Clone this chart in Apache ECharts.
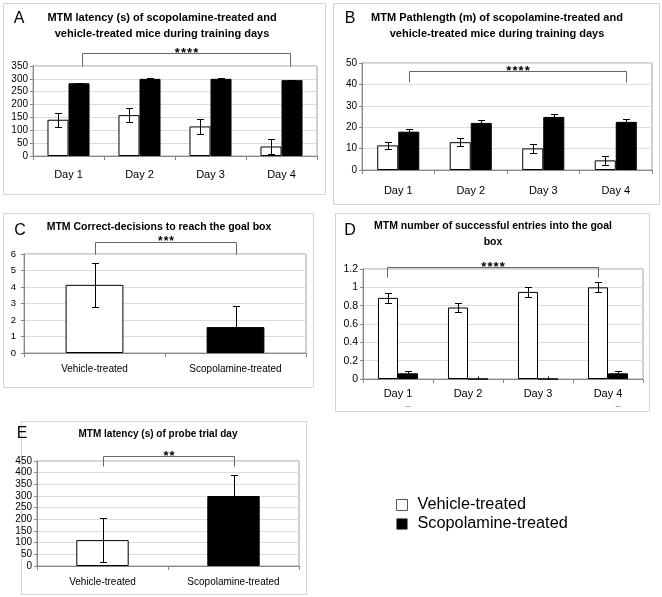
<!DOCTYPE html>
<html><head><meta charset="utf-8">
<script src="https://cdn.jsdelivr.net/npm/echarts@6/dist/echarts.min.js"></script>
<style>html,body{margin:0;padding:0;background:#fff}#c{width:662px;height:597px}</style>
</head><body><div id="c"></div>
<script>
// ---------- data ----------
const days = ['Day 1', 'Day 2', 'Day 3', 'Day 4'];
const groups = ['Vehicle-treated', 'Scopolamine-treated'];

// A: latency (s) during training days
const aVehicle = [141, 159, 115, 37];
const aVehicleErr = [28, 28, 28, 28];
const aScop = [283, 300, 300, 295];
const aScopErr = [2, 2, 2, 2];
const aTicks = [0, 350, 50];

// B: path length (m)
const bVehicle = [11.5, 13.0, 10.1, 4.5];
const bVehicleErr = [1.8, 2.0, 2.0, 2.0];
const bScop = [17.9, 22.0, 24.8, 22.5];
const bScopErr = [1.2, 1.5, 1.2, 1.5];
const bTicks = [0, 50, 10];

// C: correct decisions
const cValues = [4.13, 1.57];
const cErr = [1.33, 1.27];
const cTicks = [0, 6, 1];

// D: successful entries
const dVehicle = [0.885, 0.78, 0.95, 1.0];
const dVehicleErr = [0.055, 0.045, 0.05, 0.055];
const dScop = [0.062, 0, 0, 0.062];
const dScopErr = [0.025, 0.03, 0.03, 0.025];
const dTicks = [0, 1.2, 0.2];
const dMarks = [0, 3];

// E: probe trial latency
const eValues = [111, 300];
const eErr = [95, 91];
const eTicks = [0, 450, 50];

// significance brackets: [fromCategory, toCategory, lineValue, legValue]
const sigA = [0, 3, 401, 350];
const sigB = [0, 3, 46.3, 41];
const sigC = [0, 1, 6.73, 6];
const sigD = [0, 3, 1.22, 1.11];
const sigE = [0, 1, 471, 429];
const sigLabels = ['****', '****', '***', '****', '**'];

const titles = [
  'MTM latency (s) of scopolamine-treated and\nvehicle-treated mice during training days',
  'MTM Pathlength (m) of scopolamine-treated and\nvehicle-treated mice during training days',
  'MTM Correct-decisions to reach the goal box',
  'MTM number of successful entries into the goal\nbox',
  'MTM latency (s) of probe trial day'
];
const letters = ['A', 'B', 'C', 'D', 'E'];

// ---------- rendering ----------
const FF = '"Liberation Sans", Arial, Helvetica, sans-serif';
const chart = echarts.init(document.getElementById('c'), null, {renderer: 'canvas'});

const grids = [
  {left: 33, top: 66, width: 284, height: 90},
  {left: 362, top: 63, width: 290, height: 107},
  {left: 24, top: 254, width: 282, height: 99},
  {left: 363, top: 269, width: 280, height: 110},
  {left: 37, top: 461, width: 262, height: 105}
].map(g => Object.assign({show: true, borderColor: '#a0a0a0', borderWidth: 1, backgroundColor: 'transparent'}, g));

const panelCats = [days, days, groups, days, groups];
const panelTicks = [aTicks, bTicks, cTicks, dTicks, eTicks];
const xFont = [11, 11, 10, 11, 10];
const yFont = [10, 10, 9.5, 10.5, 10];
const xMargin = [13, 15, 11, 9, 11];
const yMargin = [5, 5, 8, 5, 5];

const xAxis = panelCats.map((cats, i) => ({
  type: 'category', gridIndex: i, data: cats,
  axisLine: {show: true, lineStyle: {color: '#888', width: 1}},
  axisTick: {show: true, length: 4, interval: 0, lineStyle: {color: '#888'}},
  axisLabel: {fontSize: xFont[i], color: '#000', fontFamily: FF, margin: xMargin[i], interval: 0},
  splitLine: {show: false}
}));
const yAxis = panelTicks.map((t, i) => ({
  type: 'value', gridIndex: i, min: t[0], max: t[1], interval: t[2],
  axisLine: {show: true, lineStyle: {color: '#888', width: 1}},
  axisTick: {show: true, length: 3, lineStyle: {color: '#888'}},
  axisLabel: {fontSize: yFont[i], color: '#000', fontFamily: FF, margin: yMargin[i]},
  splitLine: {show: true, lineStyle: {color: '#dcdcdc', width: 1}}
}));

function errRender(offset) {
  return function (params, api) {
    const i = api.value(0), v = api.value(1), e = api.value(2);
    const catW = api.size([1, 0])[0];
    const base = api.coord([i, v]);
    const x = Math.round(base[0] + offset * catW) + 0.5;
    const yT = Math.round(api.coord([i, v + e])[1]) + 0.5;
    const yB = Math.round(api.coord([i, Math.max(0, v - e)])[1]) + 0.5;
    const st = {stroke: '#000', lineWidth: 1};
    const ch = [{type: 'line', shape: {x1: x, y1: yT, x2: x, y2: yB}, style: st}];
    if (v > 0) {
      ch.push({type: 'line', shape: {x1: x - 3.5, y1: yT, x2: x + 3.5, y2: yT}, style: st});
      ch.push({type: 'line', shape: {x1: x - 3.5, y1: yB, x2: x + 3.5, y2: yB}, style: st});
    }
    return {type: 'group', children: ch};
  };
}

function errSeries(idx, vals, errs, offset) {
  return {
    type: 'custom', xAxisIndex: idx, yAxisIndex: idx, silent: true, z: 5,
    data: vals.map((v, i) => [i, v, errs[i]]),
    renderItem: errRender(offset), encode: {x: 0, y: 1}
  };
}

function sigSeries(idx, sig, off0, off1, label, fs) {
  return {
    type: 'custom', xAxisIndex: idx, yAxisIndex: idx, silent: true, clip: false, z: 6,
    data: [sig],
    encode: {x: 0, y: 2},
    renderItem: function (params, api) {
      const catW = api.size([1, 0])[0];
      const x0 = Math.round(api.coord([api.value(0), 0])[0] + off0 * catW) + 0.5;
      const x1 = Math.round(api.coord([api.value(1), 0])[0] + off1 * catW) + 0.5;
      const yL = Math.round(api.coord([0, api.value(2)])[1]) + 0.5;
      const yG = Math.round(api.coord([0, api.value(3)])[1]) + 0.5;
      const st = {stroke: '#666', lineWidth: 1};
      return {type: 'group', children: [
        {type: 'polyline', shape: {points: [[x0, yG], [x0, yL], [x1, yL], [x1, yG]]}, style: Object.assign({fill: null}, st)},
        {type: 'text', x: (x0 + x1) / 2, y: yL - 0.5, style: {text: label.split('').join('\u200A'), fill: '#000', font: 'bold ' + fs + 'px ' + FF, align: 'center', verticalAlign: 'middle'}}
      ]};
    }
  };
}

function pairBars(idx, veh, scop, bw) {
  return [
    {type: 'bar', name: groups[0], xAxisIndex: idx, yAxisIndex: idx, data: veh, barWidth: bw + '%', barGap: '0%',
     itemStyle: {color: '#fff', borderColor: '#000', borderWidth: 1}, silent: true},
    {type: 'bar', name: groups[1], xAxisIndex: idx, yAxisIndex: idx, data: scop, barWidth: bw + '%', barGap: '0%',
     itemStyle: {color: '#000', borderColor: '#000', borderWidth: 1}, silent: true}
  ];
}
function singleBars(idx, vals, bw) {
  return [
    {type: 'bar', name: groups[0], xAxisIndex: idx, yAxisIndex: idx, data: [vals[0], null], barWidth: bw + '%', barGap: '-100%',
     itemStyle: {color: '#fff', borderColor: '#000', borderWidth: 1}, silent: true},
    {type: 'bar', name: groups[1], xAxisIndex: idx, yAxisIndex: idx, data: [null, vals[1]], barWidth: bw + '%', barGap: '-100%',
     itemStyle: {color: '#000', borderColor: '#000', borderWidth: 1}, silent: true}
  ];
}

const series = [].concat(
  pairBars(0, aVehicle, aScop, 29.6),
  [errSeries(0, aVehicle, aVehicleErr, -0.148), errSeries(0, aScop, aScopErr, 0.148)],
  [sigSeries(0, sigA, 0.19, 0.12, sigLabels[0], 13)],

  pairBars(1, bVehicle, bScop, 29),
  [errSeries(1, bVehicle, bVehicleErr, -0.145), errSeries(1, bScop, bScopErr, 0.145)],
  [sigSeries(1, sigB, 0.15, 0.14, sigLabels[1], 13)],

  singleBars(2, cValues, 41),
  [errSeries(2, cValues, cErr, 0)],
  [sigSeries(2, sigC, 0, 0, sigLabels[2], 12)],

  pairBars(3, dVehicle, dScop, 28.6),
  [errSeries(3, dVehicle, dVehicleErr, -0.143), errSeries(3, dScop, dScopErr, 0.143)],
  [sigSeries(3, sigD, -0.16, -0.14, sigLabels[3], 13)],
  [{
    type: 'custom', xAxisIndex: 3, yAxisIndex: 3, silent: true, clip: false,
    data: dMarks.map(c => [c, 0]), encode: {x: 0, y: 1},
    renderItem: function (params, api) {
      const catW = api.size([1, 0])[0];
      const p = api.coord([api.value(0), 0]);
      const x = p[0] + 0.143 * catW;
      const y = Math.round(p[1] + 27) + 0.5;
      return {type: 'line', shape: {x1: x - 2.5, y1: y, x2: x + 2.5, y2: y}, style: {stroke: '#aaa', lineWidth: 1}};
    }
  }],

  singleBars(4, eValues, 40),
  [errSeries(4, eValues, eErr, 0)],
  [sigSeries(4, sigE, 0, 0, sigLabels[4], 13)]
);

const boxes = [
  [3, 3, 322, 191], [333, 3, 326, 201], [3, 213, 310, 174], [335, 213, 314, 198], [21, 421, 285, 173]
];
const titlePos = [[162, 17.5, 11], [497, 17.5, 11], [159, 227, 10.5], [493, 226, 10.5], [158, 434, 10]];
const letterPos = [[19, 19], [350, 19], [20, 231], [350, 231], [22, 434]];

const graphic = [];
boxes.forEach(b => graphic.push({type: 'rect', shape: {x: b[0] + 0.5, y: b[1] + 0.5, width: b[2], height: b[3]}, style: {fill: null, stroke: '#d4d4d4', lineWidth: 1}, silent: true, z: -10}));
titles.forEach((t, i) => {
  const multi = t.indexOf('\n') >= 0;
  graphic.push({type: 'text', x: titlePos[i][0], y: multi ? titlePos[i][1] - 8 : titlePos[i][1], silent: true,
    style: {text: t, fill: '#000', font: 'bold ' + titlePos[i][2] + 'px ' + FF, align: 'center',
            verticalAlign: multi ? 'top' : 'middle', lineHeight: 16}});
});
letters.forEach((l, i) => graphic.push({type: 'text', x: letterPos[i][0], y: letterPos[i][1], silent: true,
  style: {text: l, fill: '#000', font: '16px ' + FF, align: 'center', verticalAlign: 'middle'}}));

chart.setOption({
  animation: false,
  grid: grids,
  xAxis: xAxis,
  yAxis: yAxis,
  series: series,
  graphic: graphic,
  legend: {
    show: true, orient: 'vertical', left: 396, top: 497, padding: 0, itemWidth: 11, itemHeight: 11, itemGap: 3,
    icon: 'rect', selectedMode: false,
    data: [
      {name: groups[0], itemStyle: {color: '#fff', borderColor: '#555', borderWidth: 1}},
      {name: groups[1], itemStyle: {color: '#000', borderColor: '#000', borderWidth: 0}}
    ],
    textStyle: {fontSize: 16.3, color: '#000', fontFamily: FF, padding: [0, 0, 0, 5]}
  }
});
</script>
</body></html>
